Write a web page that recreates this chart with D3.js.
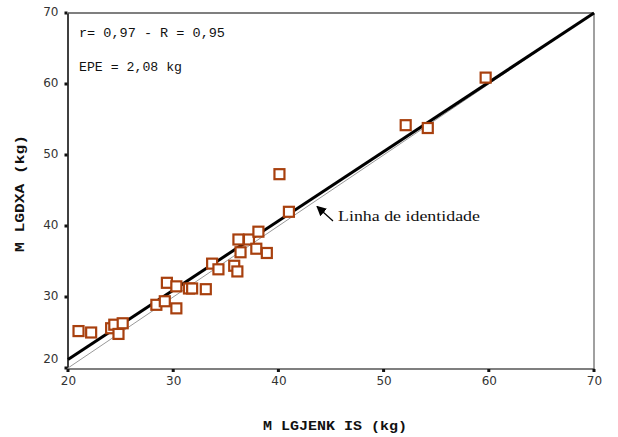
<!DOCTYPE html>
<html><head><meta charset="utf-8">
<script src="https://cdn.jsdelivr.net/npm/d3@7"></script>
<style>body{margin:0;background:#fff}svg{display:block}</style>
</head><body>
<svg id="c" width="618" height="437"></svg>
<script>
const jenkis = [21.0,22.2,24.1,24.4,24.8,25.2,28.4,29.2,29.4,30.3,30.3,31.5,31.8,33.1,33.7,34.3,35.8,36.1,36.2,36.4,37.2,37.9,38.1,38.9,40.1,41.0,52.1,54.2,59.7];
const dxa    = [25.2,25.0,25.6,26.1,24.8,26.3,28.9,29.4,32.0,31.5,28.4,31.2,31.2,31.1,34.7,33.9,34.4,33.6,38.1,36.3,38.1,36.8,39.2,36.2,47.3,42.0,54.2,53.8,60.9];
const xTicks = [20,30,40,50,60,70];
const yTicks = [20,30,40,50,60,70];
const regression = [[20,21.2],[70,70]];
const identity = [[20,20],[70,70]];
const xTitle = "M LGJENK IS (kg)";
const yTitle = "M LGDXA (kg)";
const stats1 = "r= 0,97 - R = 0,95";
const stats2 = "EPE = 2,08 kg";
const lineLabel = "Linha de identidade";

const svg = d3.select("#c");
const x = d3.scaleLinear().domain([20,70]).range([68,594]);
const y = d3.scaleLinear().domain([20,70]).range([368,13]);

// frame
svg.append("line").attr("x1",68).attr("x2",594).attr("y1",13).attr("y2",13).attr("stroke","#000").attr("stroke-width",1.2);
svg.append("line").attr("x1",594).attr("x2",594).attr("y1",13).attr("y2",369).attr("stroke","#808080").attr("stroke-width",1.5);

// axes
const xAxis = d3.axisBottom(x).tickValues(xTicks).tickSize(0).tickPadding(8);
const yAxis = d3.axisLeft(y).tickValues(yTicks).tickSize(0).tickPadding(9);
const gx = svg.append("g").attr("transform","translate(0,368.5)").call(xAxis);
gx.select(".domain").attr("stroke","#555").attr("stroke-width",1.5);
gx.selectAll("text").attr("font-family","DejaVu Sans").attr("font-size",12).attr("fill","#333");
const gy = svg.append("g").attr("transform","translate(67.5,0)").call(yAxis);
gy.select(".domain").attr("stroke","#000").attr("stroke-width",1.5);
gy.selectAll("text").attr("font-family","DejaVu Sans").attr("font-size",12).attr("fill","#333").attr("dy","0.2em");
gy.selectAll(".tick").filter(d=>d===20).select("text").attr("dy","-0.5em");

// tick squares
svg.selectAll(".xt").data(xTicks).enter().append("rect")
  .attr("x",d=>x(d)-1.5).attr("y",369).attr("width",3).attr("height",3).attr("fill","#111");
svg.selectAll(".yt").data(yTicks).enter().append("rect")
  .attr("x",64.5).attr("y",d=>y(d)-1.5).attr("width",3).attr("height",3).attr("fill","#111");

// lines
const line = d3.line().x(d=>x(d[0])).y(d=>y(d[1]));
svg.append("path").attr("d",line(identity)).attr("stroke","#999").attr("stroke-width",1).attr("fill","none");
svg.append("path").attr("d",line(regression)).attr("stroke","#000").attr("stroke-width",3).attr("fill","none");

// points
const pts = jenkis.map((v,i)=>[v,dxa[i]]);
svg.selectAll(".pt").data(pts).enter().append("rect")
  .attr("x",d=>x(d[0])-5).attr("y",d=>y(d[1])-5).attr("width",10).attr("height",10)
  .attr("fill","#fff").attr("stroke","#a8400e").attr("stroke-width",2.2);

// annotations
svg.append("text").attr("x",79).attr("y",37).attr("font-family","Liberation Mono").attr("font-size",13)
  .attr("textLength",146).attr("lengthAdjust","spacingAndGlyphs").attr("fill","#111").attr("xml:space","preserve").text(stats1);
svg.append("text").attr("x",79).attr("y",71).attr("font-family","Liberation Mono").attr("font-size",13)
  .attr("textLength",103).attr("lengthAdjust","spacingAndGlyphs").attr("fill","#111").text(stats2);

// arrow
svg.append("defs").append("marker").attr("id","ah").attr("viewBox","0 0 10 10").attr("refX",9).attr("refY",5)
  .attr("markerWidth",10).attr("markerHeight",10).attr("markerUnits","userSpaceOnUse").attr("orient","auto")
  .append("path").attr("d","M0,0L10,5L0,10z").attr("fill","#000");
svg.append("line").attr("x1",333).attr("y1",221).attr("x2",317).attr("y2",206.5)
  .attr("stroke","#000").attr("stroke-width",1.2).attr("marker-end","url(#ah)");
svg.append("text").attr("x",338).attr("y",221).attr("font-family","Liberation Serif").attr("font-size",14)
  .attr("textLength",142).attr("lengthAdjust","spacingAndGlyphs").attr("fill","#111").text(lineLabel);

// titles
svg.append("text").attr("x",263).attr("y",430).attr("font-family","Liberation Mono").attr("font-weight","bold")
  .attr("font-size",13).attr("textLength",144).attr("lengthAdjust","spacingAndGlyphs").attr("fill","#111").text(xTitle);
svg.append("text").attr("transform","translate(24,252) rotate(-90)").attr("font-family","Liberation Mono").attr("font-weight","bold")
  .attr("font-size",13).attr("textLength",117).attr("lengthAdjust","spacingAndGlyphs").attr("fill","#111").text(yTitle);
</script>
</body></html>
